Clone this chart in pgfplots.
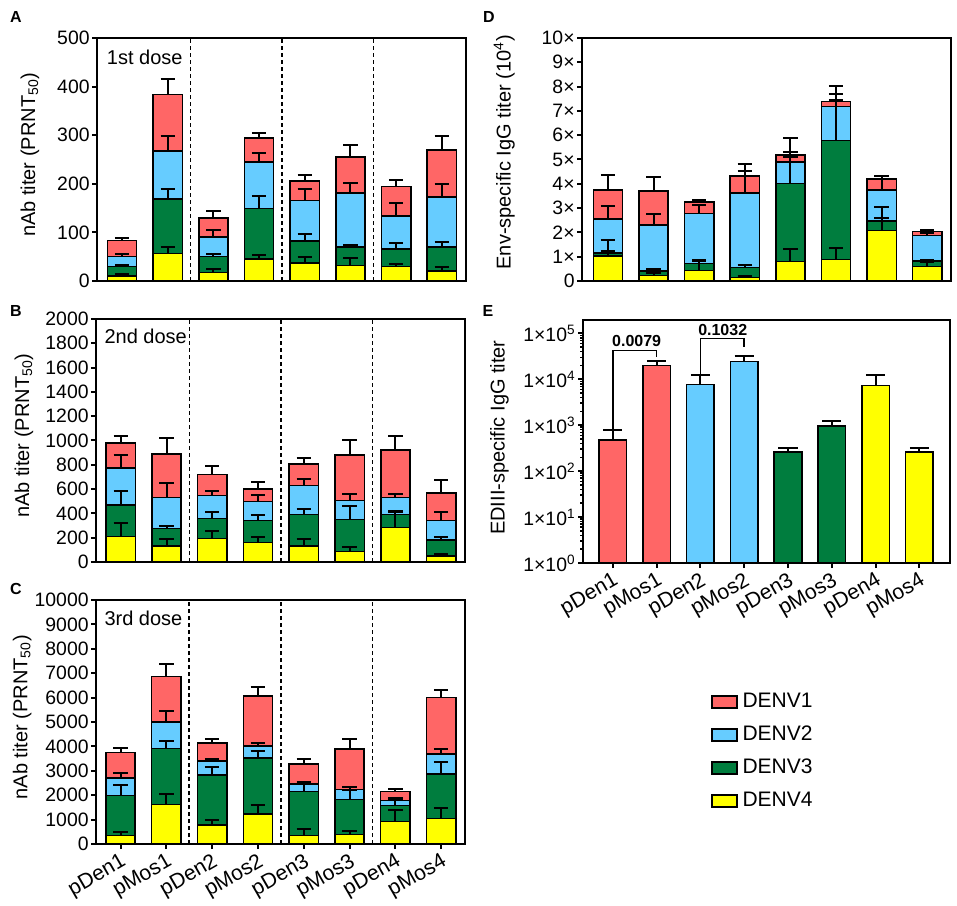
\documentclass[border=0pt]{standalone}
\usepackage{fontspec}
\setmainfont{Liberation Sans}
\usepackage{pgfplots}
\pgfplotsset{compat=1.18}
\definecolor{cR}{RGB}{255,102,102}
\definecolor{cB}{RGB}{102,204,255}
\definecolor{cG}{RGB}{0,125,62}
\definecolor{cY}{RGB}{255,255,0}
\tikzset{sepline/.style={black, line width=0.8pt, dash pattern=on 2pt off 1.5pt}}
\pgfplotsset{
  base/.style={scale only axis, width=184.5pt, height=121.5pt,
    axis line style={line width=1.1pt, black},
    tick align=outside, major tick length=2.5pt, minor tick length=1.5pt,
    major tick style={line width=1pt, black},
    minor tick style={line width=0.8pt, black},
    ytick pos=left, xtick pos=bottom,
    tick label style={font=\fontsize{9.7}{11}\selectfont, inner sep=1pt},
    /pgf/number format/assume math mode=true,
    /pgf/number format/1000 sep={},
    scaled y ticks=false,
    ybar, bar shift=0pt, bar width=0.64,
    ylabel style={font=\fontsize{10}{12}\selectfont, anchor=center},
    xticklabel style={rotate=30, anchor=north east, font=\fontsize{10.6}{12}\selectfont, inner sep=1pt},
    ymin=0,
  },
  seg/.style={fill=#1, draw=black, line width=0.75pt,
    error bars/.cd, y explicit, y dir=plus,
    error bar style={line width=1pt, black},
    error mark options={rotate=90, line width=1pt, black, mark size=3.6pt}},
  segE/.style={fill=#1, draw=black, line width=0.75pt, forget plot,
    error bars/.cd, y explicit, y dir=plus,
    error bar style={line width=1pt, black},
    error mark options={rotate=90, line width=1pt, black, mark size=4.8pt}},
}
\begin{document}
\begin{tikzpicture}
\useasboundingbox (0pt,0pt) rectangle (478.5pt,452.5pt);
% ---------------- Panel A ----------------
\begin{axis}[base, at={(48.5pt,312pt)}, anchor=south west,
  xmin=-0.55, xmax=7.53, xtick=\empty,
  ymax=500, ytick={0,100,...,500},
  ylabel={nAb titer (PRNT\textsubscript{50})},
  ylabel style={at={(axis description cs:-0.182,0.52)}}]
\addplot[seg=cR] coordinates {(0,83) +- (0,5.5) (1,383.6) +- (0,31) (2,130) +- (0,14) (3,294.5) +- (0,9) (4,206) +- (0,12.5) (5,255) +- (0,24) (6,194) +- (0,13.5) (7,270) +- (0,28)};
\addplot[seg=cB] coordinates {(0,50) +- (0,5.5) (1,267) +- (0,31) (2,91) +- (0,14) (3,245) +- (0,19) (4,166) +- (0,23) (5,181.5) +- (0,21) (6,133.6) +- (0,27) (7,173) +- (0,26)};
\addplot[seg=cG] coordinates {(0,29.5) +- (0,3.5) (1,169) +- (0,21) (2,50) +- (0,5.5) (3,149) +- (0,26) (4,82) +- (0,14.5) (5,70) +- (0,5) (6,66) +- (0,12) (7,70) +- (0,9.5)};
\addplot[seg=cY] coordinates {(0,10.3) +- (0,4) (1,57) +- (0,13.5) (2,17) +- (0,8) (3,45) +- (0,9) (4,37) +- (0,12) (5,32) +- (0,16) (6,29.5) +- (0,6) (7,20.5) +- (0,8)};
\draw[sepline] (axis cs:1.5,0) -- (axis cs:1.5,500);
\draw[sepline] (axis cs:3.5,0) -- (axis cs:3.5,500);
\draw[sepline] (axis cs:5.5,0) -- (axis cs:5.5,500);
\node[anchor=west, inner sep=0pt, font=\fontsize{10}{12}\selectfont] at (axis description cs:0.026,0.92) {1st dose};
\end{axis}
% ---------------- Panel B ----------------
\begin{axis}[base, at={(48pt,171.5pt)}, anchor=south west,
  xmin=-0.54, xmax=7.52, xtick=\empty,
  ymax=2000, ytick={0,200,...,2000},
  ylabel={nAb titer (PRNT\textsubscript{50})},
  ylabel style={at={(axis description cs:-0.195,0.52)}}]
\addplot[seg=cR] coordinates {(0,981) +- (0,57) (1,888) +- (0,131) (2,720.6) +- (0,68) (3,600) +- (0,60) (4,808) +- (0,44) (5,882) +- (0,121) (6,921) +- (0,115) (7,567) +- (0,110)};
\addplot[seg=cB] coordinates {(0,773) +- (0,104) (1,531.5) +- (0,115) (2,548) +- (0,36) (3,498.7) +- (0,55) (4,630) +- (0,55) (5,507) +- (0,52) (6,531.5) +- (0,27) (7,342.5) +- (0,71)};
\addplot[seg=cG] coordinates {(0,468) +- (0,113) (1,277) +- (0,19) (2,356) +- (0,52) (3,342.5) +- (0,44) (4,389) +- (0,44) (5,351) +- (0,110) (6,389) +- (0,25) (7,181) +- (0,25)};
\addplot[seg=cY] coordinates {(0,208) +- (0,115) (1,131.5) +- (0,60) (2,194.5) +- (0,57) (3,159) +- (0,49) (4,131.5) +- (0,55) (5,88) +- (0,33) (6,285) +- (0,134) (7,49) +- (0,14)};
\draw[sepline] (axis cs:1.5,0) -- (axis cs:1.5,2000);
\draw[sepline] (axis cs:3.5,0) -- (axis cs:3.5,2000);
\draw[sepline] (axis cs:5.5,0) -- (axis cs:5.5,2000);
\node[anchor=west, inner sep=0pt, font=\fontsize{10}{12}\selectfont] at (axis description cs:0.022,0.927) {2nd dose};
\end{axis}
% ---------------- Panel C ----------------
\begin{axis}[base, at={(48pt,30.5pt)}, anchor=south west, height=122pt,
  xmin=-0.535, xmax=7.52, xtick={0,...,7},
  xticklabels={pDen1,pMos1,pDen2,pMos2,pDen3,pMos3,pDen4,pMos4},
  ymax=10000, ytick={0,1000,...,10000},
  ylabel={nAb titer (PRNT\textsubscript{50})},
  ylabel style={at={(axis description cs:-0.20,0.52)}}]
\addplot[seg=cR] coordinates {(0,3748) +- (0,192) (1,6867) +- (0,493) (2,4145) +- (0,151) (3,6074) +- (0,342) (4,3270) +- (0,232) (5,3899) +- (0,424) (6,2148) +- (0,95) (7,6006) +- (0,287)};
\addplot[seg=cB] coordinates {(0,2709) +- (0,205) (1,4993) +- (0,452) (2,3406) +- (0,96) (3,4008) +- (0,137) (4,2449) +- (0,82) (5,2230) +- (0,109) (6,1790) +- (0,80) (7,3694) +- (0,218)};
\addplot[seg=cG] coordinates {(0,1997) +- (0,424) (1,3912) +- (0,301) (2,2832) +- (0,342) (3,3529) +- (0,301) (4,2161) +- (0,350) (5,1819) +- (0,380) (6,1573) +- (0,250) (7,2859) +- (0,520)};
\addplot[seg=cY] coordinates {(0,356) +- (0,123) (1,1614) +- (0,424) (2,780) +- (0,219) (3,1231) +- (0,383) (4,356) +- (0,260) (5,397) +- (0,123) (6,930) +- (0,479) (7,1040) +- (0,424)};
\draw[sepline] (axis cs:1.5,0) -- (axis cs:1.5,10000);
\draw[sepline] (axis cs:3.5,0) -- (axis cs:3.5,10000);
\draw[sepline] (axis cs:5.5,0) -- (axis cs:5.5,10000);
\node[anchor=west, inner sep=0pt, font=\fontsize{10}{12}\selectfont] at (axis description cs:0.022,0.925) {3rd dose};
\end{axis}
% ---------------- Panel D ----------------
\begin{axis}[base, at={(291pt,312pt)}, anchor=south west,
  xmin=-0.57, xmax=7.52, xtick=\empty,
  ymax=10, ytick={0,1,...,10},
  yticklabels={0,1×,2×,3×,4×,5×,6×,7×,8×,9×,10×},
  ylabel={Env-specific IgG titer (10\textsuperscript{4})},
  ylabel style={at={(axis description cs:-0.211,0.53)}}]
\addplot[seg=cR] coordinates {(0,3.75) +- (0,0.6) (1,3.71) +- (0,0.55) (2,3.25) +- (0,0.08) (3,4.33) +- (0,0.48) (4,5.19) +- (0,0.7) (5,7.38) +- (0,0.06) (6,4.19) +- (0,0.13) (7,2.04) +- (0,0.07)};
\addplot[seg=cB] coordinates {(0,2.55) +- (0,0.53) (1,2.30) +- (0,0.45) (2,2.77) +- (0,0.37) (3,3.62) +- (0,0.91) (4,4.90) +- (0,0.21) (5,7.19) +- (0,0.85) (6,3.74) +- (0,0.44) (7,1.88) +- (0,0.1)};
\addplot[seg=cG] coordinates {(0,1.16) +- (0,0.52) (1,0.42) +- (0,0.06) (2,0.73) +- (0,0.1) (3,0.56) +- (0,0.1) (4,4.01) +- (0,1.29) (5,5.78) +- (0,1.9) (6,2.47) +- (0,0.12) (7,0.82) +- (0,0.06)};
\addplot[seg=cY] coordinates {(0,1.03) +- (0,0.22) (1,0.23) +- (0,0.1) (2,0.44) +- (0,0.42) (3,0.15) +- (0,0.05) (4,0.81) +- (0,0.52) (5,0.89) +- (0,0.48) (6,2.08) +- (0,0.95) (7,0.59) +- (0,0.2)};
\end{axis}
% ---------------- Panel E ----------------
\begin{axis}[base, at={(291.5pt,171pt)}, anchor=south west, width=183.5pt,
  ymode=log, ymin=1, ymax=195000, bar width=0.63,
  xmin=-0.68, xmax=7.7, xtick={0,...,7},
  xticklabels={pDen1,pMos1,pDen2,pMos2,pDen3,pMos3,pDen4,pMos4},
  ytick={1,10,100,1000,10000,100000},
  minor ytick={2,3,4,5,6,7,8,9,20,30,40,50,60,70,80,90,200,300,400,500,600,700,800,900,2000,3000,4000,5000,6000,7000,8000,9000,20000,30000,40000,50000,60000,70000,80000,90000},
  yticklabels={1×10\textsuperscript{0},1×10\textsuperscript{1},1×10\textsuperscript{2},1×10\textsuperscript{3},1×10\textsuperscript{4},1×10\textsuperscript{5}},
  ylabel={EDIII-specific IgG titer},
  ylabel style={at={(axis description cs:-0.2275,0.516)}},
  legend style={at={(axis description cs:0.33,-0.496)}, anchor=north west, draw=none, fill=none,
    font=\fontsize{10.5}{12}\selectfont, row sep=2.7pt, nodes={inner sep=2.5pt}},
  legend cell align=left]
\addplot[segE=cR] coordinates {(0,480) +- (0,300) (1,20000) +- (0,5000)};
\addplot[segE=cB] coordinates {(2,7660) +- (0,4940) (3,24600) +- (0,8000)};
\addplot[segE=cG] coordinates {(4,263) +- (0,59) (5,950) +- (0,290)};
\addplot[segE=cY] coordinates {(6,7400) +- (0,5000) (7,263) +- (0,62)};
\draw[black, line width=0.75pt] (axis cs:0,780) -- (axis cs:0,41900) -- (axis cs:1,41900) -- (axis cs:1,31000);
\draw[black, line width=0.75pt] (axis cs:2,12600) -- (axis cs:2,76600) -- (axis cs:3,76600) -- (axis cs:3,50000);
\node[font=\bfseries\fontsize{8}{9.6}\selectfont, inner sep=0pt] at (axis cs:0.545,68000) {0.0079};
\node[font=\bfseries\fontsize{8}{9.6}\selectfont, inner sep=0pt] at (axis cs:2.51,118000) {0.1032};
\addlegendimage{legend image code/.code={\draw[fill=cR,draw=black,line width=1pt] (-2pt,-3pt) rectangle (10.5pt,3pt);}}
\addlegendentry{DENV1}
\addlegendimage{legend image code/.code={\draw[fill=cB,draw=black,line width=1pt] (-2pt,-3pt) rectangle (10.5pt,3pt);}}
\addlegendentry{DENV2}
\addlegendimage{legend image code/.code={\draw[fill=cG,draw=black,line width=1pt] (-2pt,-3pt) rectangle (10.5pt,3pt);}}
\addlegendentry{DENV3}
\addlegendimage{legend image code/.code={\draw[fill=cY,draw=black,line width=1pt] (-2pt,-3pt) rectangle (10.5pt,3pt);}}
\addlegendentry{DENV4}
\end{axis}
% ---------------- Panel letters ----------------
\node[font=\bfseries\fontsize{8}{9.6}\selectfont] at (8pt,444pt) {A};
\node[font=\bfseries\fontsize{8}{9.6}\selectfont] at (8pt,297pt) {B};
\node[font=\bfseries\fontsize{8}{9.6}\selectfont] at (8pt,158pt) {C};
\node[font=\bfseries\fontsize{8}{9.6}\selectfont] at (244.5pt,444pt) {D};
\node[font=\bfseries\fontsize{8}{9.6}\selectfont] at (244pt,297pt) {E};
\end{tikzpicture}
\end{document}
